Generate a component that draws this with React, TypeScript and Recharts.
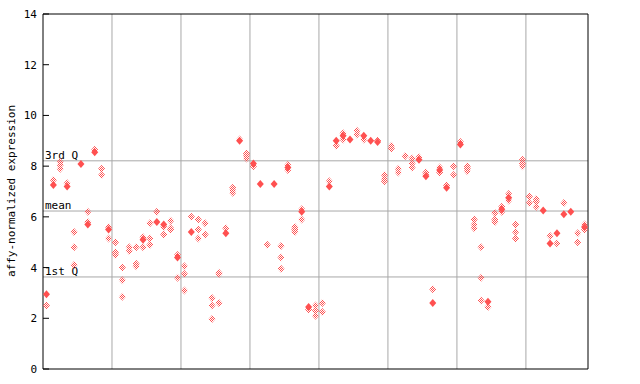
import { ReferenceLine, Scatter, ScatterChart, XAxis, YAxis } from 'recharts'

const RED = '#ff5050'
const GRID = '#a8a8a8'
const FONT = '"DejaVu Sans Mono", monospace'

// one entry per sample slot, left to right
const solidValues: (number | null)[] = [
  2.95, 7.26, null, 7.2, null, 8.08, 5.7, 8.55, null, 5.5,
  null, null, null, null, 5.1, null, 5.8, 5.7, null, 4.4,
  null, 5.4, null, null, null, null, 5.35, null, 9.0, null,
  8.1, 7.3, null, 7.3, null, 7.95, null, 6.2, 2.45, null,
  null, 7.2, 9.0, 9.2, 9.05, null, 9.2, 9.0, 8.95, null,
  null, null, null, null, 8.25, 7.6, 2.6, 7.85, 7.15, null,
  8.85, null, null, null, 2.65, null, 6.3, 6.75, null, null,
  null, null, 6.25, 4.95, 5.35, 6.1, 6.2, null, 5.6,
]

const hatchedValues: number[][] = [
  [2.5], [7.45], [8.16, 8.05, 7.9], [7.33], [5.4, 4.8, 4.1], [], [6.2, 5.8], [8.65], [7.9, 7.65], [5.6, 5.15],
  [5.0, 4.6, 4.5], [4.0, 3.5, 2.85], [4.8, 4.65], [4.8, 4.15, 4.05], [5.2, 4.8], [5.75, 5.15, 4.9], [6.2], [5.6, 5.3], [5.85, 5.55, 5.5], [4.5, 3.6],
  [4.05, 3.75, 3.1], [6.0], [5.9, 5.5, 5.15], [5.75, 5.3], [2.8, 2.5, 1.97], [3.8, 3.75, 2.6], [5.55], [7.15, 7.05, 6.95], [9.05], [8.5, 8.4, 8.3],
  [8.0], [], [4.9], [], [4.85, 4.4, 3.95], [8.05, 7.85], [5.6, 5.5, 5.4], [6.3, 5.9], [2.35], [2.5, 2.3, 2.1],
  [2.6, 2.25], [7.4], [8.8], [9.3, 9.05], [], [9.4, 9.25], [9.05], [], [9.0], [7.65, 7.5, 7.4],
  [8.8, 8.7], [7.9, 7.75], [8.4], [8.3, 8.1, 7.95], [8.35], [7.75, 7.65], [3.15], [7.95, 7.75], [7.25], [8.0, 7.65],
  [8.95], [8.0, 7.9, 7.8], [5.9, 5.7, 5.55], [4.8, 3.6, 2.7], [2.45], [6.15, 5.9, 5.8], [6.4, 6.2], [6.9, 6.65], [5.7, 5.4, 5.15], [8.25, 8.1, 8.0],
  [6.8, 6.55], [6.7, 6.6, 6.4], [], [5.25], [4.95], [6.55], [], [5.35, 5.0], [5.7, 5.5],
]

const yTicks = [0, 2, 4, 6, 8, 10, 12, 14]
const groupBounds = [9.5, 19.5, 29.5, 39.5, 49.5, 59.5, 69.5]
const quartiles = [
  { label: '3rd Q', value: 8.21 },
  { label: 'mean', value: 6.23 },
  { label: '1st Q', value: 3.63 },
]

const solidData = solidValues
  .map((v, i) => (v === null ? null : { x: i, y: v }))
  .filter((d) => d !== null)
const hatchedData = hatchedValues.flatMap((vals, i) => vals.map((v) => ({ x: i, y: v })))

function diamond(cx: number, cy: number) {
  return `M${cx},${cy - 4}L${cx + 3.5},${cy}L${cx},${cy + 4}L${cx - 3.5},${cy}Z`
}

function SolidShape(props: any) {
  return <path d={diamond(props.cx, props.cy)} fill={RED} />
}

function HatchedShape(props: any) {
  return (
    <g>
      <defs>
        <pattern id="chk" width="2" height="2" patternUnits="userSpaceOnUse">
          <rect x="0" y="0" width="1" height="1" fill={RED} />
          <rect x="1" y="1" width="1" height="1" fill={RED} />
        </pattern>
      </defs>
      <path d={diamond(props.cx, props.cy)} fill="url(#chk)" />
    </g>
  )
}

function LeftTick(props: any) {
  const { x, y, payload } = props
  return (
    <g>
      <line x1={x} x2={x + 6} y1={y} y2={y} stroke="#000" />
      <text x={x - 6} y={y + 4} textAnchor="end" fontFamily={FONT} fontSize={11} fill="#000">
        {payload.value}
      </text>
    </g>
  )
}

function RightTick(props: any) {
  const { x, y } = props
  return <line x1={x} x2={x - 6} y1={y} y2={y} stroke="#000" />
}

export default function App() {
  return (
    <div style={{ position: 'absolute', left: 0, top: 0 }}>
      <ScatterChart width={640} height={384} margin={{ top: 14, right: 42, bottom: 10, left: 8 }}>
        <XAxis
          type="number"
          dataKey="x"
          domain={[-0.5, 78.5]}
          ticks={[]}
          tickLine={false}
          height={5}
          axisLine={{ stroke: '#000' }}
        />
        <YAxis
          yAxisId="left"
          type="number"
          dataKey="y"
          domain={[0, 14]}
          ticks={yTicks}
          width={35}
          tickSize={0}
          tickMargin={0}
          tickLine={false}
          axisLine={{ stroke: '#000' }}
          tick={<LeftTick />}
          label={{
            content: () => (
              <text
                x={12}
                y={191}
                transform="rotate(-90 12 191)"
                textAnchor="middle"
                dominantBaseline="middle"
                fontFamily={FONT}
                fontSize={11}
                fill="#000"
              >
                affy-normalized expression
              </text>
            ),
          }}
        />
        <YAxis
          yAxisId="right"
          orientation="right"
          type="number"
          domain={[0, 14]}
          ticks={yTicks}
          width={10}
          tickSize={0}
          tickMargin={0}
          tickLine={false}
          axisLine={{ stroke: '#000' }}
          tick={<RightTick />}
        />
        {groupBounds.map((b) => (
          <ReferenceLine key={b} x={b} yAxisId="left" stroke={GRID} />
        ))}
        {quartiles.map((q) => (
          <ReferenceLine
            key={q.label}
            y={q.value}
            yAxisId="left"
            stroke={GRID}
            label={{
              content: (p: any) => (
                <text x={p.viewBox.x + 2} y={p.viewBox.y - 2} fontFamily={FONT} fontSize={11} fill="#000">
                  {q.label}
                </text>
              ),
            }}
          />
        ))}
        <ReferenceLine y={14} yAxisId="left" stroke="#000" />
        <Scatter yAxisId="left" data={hatchedData} shape={<HatchedShape />} isAnimationActive={false} />
        <Scatter yAxisId="left" data={solidData} shape={<SolidShape />} isAnimationActive={false} />
      </ScatterChart>
    </div>
  )
}
